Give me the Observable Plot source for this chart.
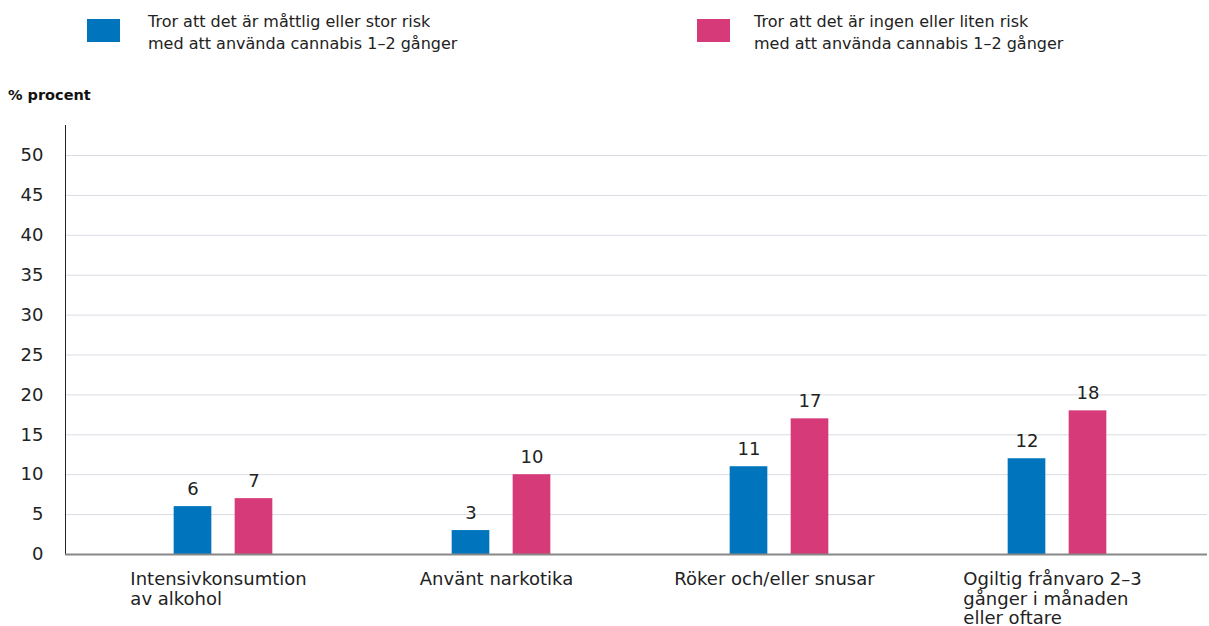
<!DOCTYPE html>
<html>
<head>
<meta charset="utf-8">
<script src="https://cdn.jsdelivr.net/npm/d3@7"></script>
<script src="https://cdn.jsdelivr.net/npm/@observablehq/plot@0.6"></script>
<style>
  html, body { margin: 0; padding: 0; background: #fff; }
  body { width: 1209px; height: 626px; position: relative; overflow: hidden; font-family: "DejaVu Sans", sans-serif; color: #222; }
  .sw { position: absolute; width: 33px; height: 23px; }
  .lt { position: absolute; font-size: 16px; line-height: 22px; color: #222; white-space: nowrap; }
  #ylab { position: absolute; left: 8px; top: 87px; font-size: 14.5px; line-height: 17px; font-weight: 700; color: #111; }
  #chart { position: absolute; left: 0; top: 110px; }
</style>
</head>
<body>
<div class="sw" id="sw0" style="left:87px;top:19px;"></div>
<div class="lt" id="lt0" style="left:148px;top:11px;"></div>
<div class="sw" id="sw1" style="left:697px;top:19px;"></div>
<div class="lt" id="lt1" style="left:754px;top:11px;"></div>
<div id="ylab">% procent</div>
<div id="chart"></div>
<script>
const categories = [
  "Intensivkonsumtion\nav alkohol",
  "Använt narkotika",
  "Röker och/eller snusar",
  "Ogiltig frånvaro 2–3\ngånger i månaden\neller oftare"
];
const seriesNames = [
  "Tror att det är måttlig eller stor risk\nmed att använda cannabis 1–2 gånger",
  "Tror att det är ingen eller liten risk\nmed att använda cannabis 1–2 gånger"
];
const seriesColors = ["#0075bd", "#d63a78"];
const moderateRisk = [6, 3, 11, 12];
const lowRisk = [7, 10, 17, 18];
const yTicks = [0, 5, 10, 15, 20, 25, 30, 35, 40, 45, 50];

// legend
seriesNames.forEach((s, i) => {
  document.getElementById("sw" + i).style.background = seriesColors[i];
  document.getElementById("lt" + i).innerHTML = s.split("\n").join("<br>");
});

const rows = [];
categories.forEach((c, i) => {
  rows.push({category: c, series: seriesNames[0], value: moderateRisk[i]});
  rows.push({category: c, series: seriesNames[1], value: lowRisk[i]});
});
const s0 = rows.filter(d => d.series === seriesNames[0]);
const s1 = rows.filter(d => d.series === seriesNames[1]);

const FONT = "'DejaVu Sans', sans-serif";
const FS = 18;
const ctx = document.createElement("canvas").getContext("2d");
ctx.font = FS + "px 'DejaVu Sans'";
const blockWidth = t => Math.max(...t.split("\n").map(l => ctx.measureText(l).width));

const W = 1209, H = 516, ML = 65, MR = 2, MT = 15, MB = 72;
const padOuter = 0.0515;
const step = (W - ML - MR) / (categories.length + 2 * padOuter);
const barW = 38, gap = 23;
const off = (barW + gap) / 2;
const inL0 = step / 2 - off - barW / 2;
const inR0 = step - inL0 - barW;
const inL1 = step / 2 + off - barW / 2;
const inR1 = step - inL1 - barW;

const plot = Plot.plot({
  width: W, height: H,
  marginLeft: ML, marginRight: MR, marginTop: MT, marginBottom: MB,
  style: {fontFamily: FONT, fontSize: FS + "px", color: "#222", background: "transparent", overflow: "visible"},
  x: {type: "band", domain: categories, paddingInner: 0, paddingOuter: padOuter, align: 0.64, axis: null},
  y: {domain: [0, 53.76], axis: null},
  marks: [
    Plot.gridY(yTicks.filter(v => v > 0), {stroke: "#d8dde4", strokeOpacity: 1, strokeWidth: 1}),
    Plot.axisY(yTicks, {tickSize: 0, tickPadding: 22, label: null, fontSize: FS, fill: "#222"}),
    Plot.frame({anchor: "left", stroke: "#222", strokeWidth: 1}),
    Plot.barY(s0, {x: "category", y: "value", fill: seriesColors[0], insetLeft: inL0, insetRight: inR0}),
    Plot.barY(s1, {x: "category", y: "value", fill: seriesColors[1], insetLeft: inL1, insetRight: inR1}),
    Plot.ruleY([0], {stroke: "#888", strokeWidth: 2}),
    Plot.text(s0, {x: "category", y: "value", text: d => String(d.value), dx: -off, dy: -12, lineAnchor: "bottom", fontSize: FS, fill: "#222"}),
    Plot.text(s1, {x: "category", y: "value", text: d => String(d.value), dx: off, dy: -12, lineAnchor: "bottom", fontSize: FS, fill: "#222"}),
    ...categories.map(c => Plot.text([c], {
      x: d => d, y: () => 0, text: d => d,
      textAnchor: "start", lineAnchor: "top", lineHeight: 19.5 / FS,
      dx: -blockWidth(c) / 2 - 5, dy: 17, fontSize: FS, fill: "#222"
    }))
  ]
});
document.getElementById("chart").appendChild(plot);
</script>
</body>
</html>
